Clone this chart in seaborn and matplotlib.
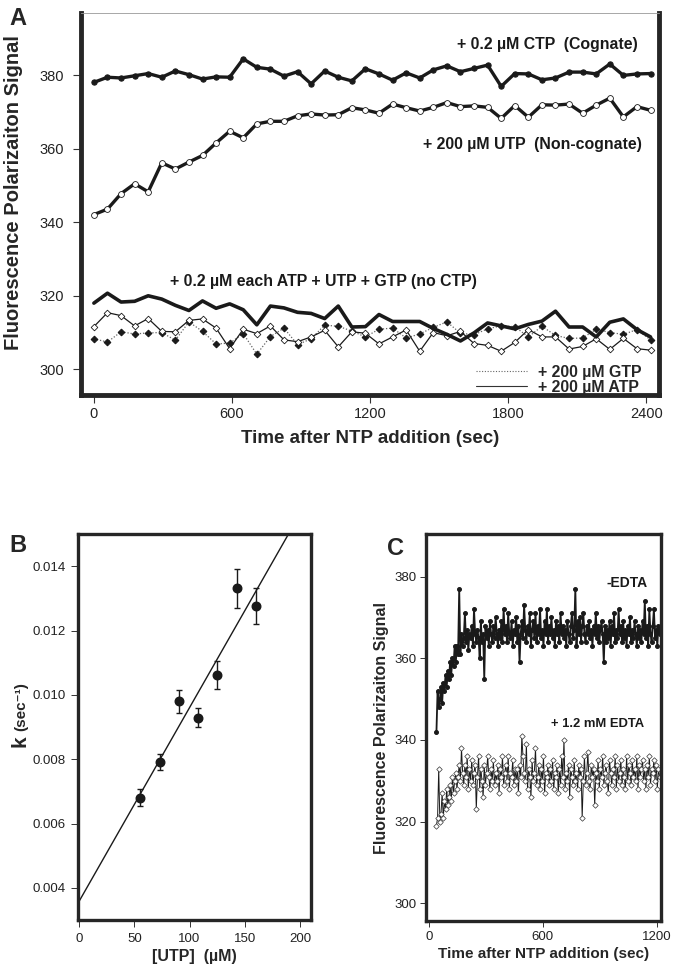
import matplotlib
matplotlib.use('Agg')
import matplotlib.pyplot as plt
import seaborn as sns
from matplotlib.lines import Line2D

# ---------------- data ----------------
# Panel A: time after NTP addition (sec)
a_time = [0, 59, 118, 177, 236, 295, 354, 413, 472, 531, 590, 649, 708, 767,
          826, 885, 944, 1003, 1062, 1121, 1180, 1239, 1298, 1357, 1416, 1475,
          1534, 1593, 1652, 1711, 1770, 1829, 1888, 1947, 2006, 2065, 2124,
          2183, 2242, 2301, 2360, 2419]

ctp_cognate = [378.1, 379.5, 379.3, 379.9, 380.5, 379.5, 381.2, 380.2, 379.0, 379.6,
               379.5, 384.5, 382.2, 381.7, 379.8, 381.0, 377.7, 381.2, 379.5, 378.5,
               381.8, 380.4, 378.7, 380.7, 379.3, 381.5, 382.6, 381.0, 381.9, 382.8,
               377.0, 380.5, 380.4, 378.8, 379.3, 380.9, 380.9, 380.4, 383.1, 380.0,
               380.4, 380.5]

utp_noncognate = [342.1, 343.6, 347.8, 350.5, 348.3, 356.2, 354.5, 356.4, 358.2, 361.6,
                  364.8, 363.0, 366.8, 367.5, 367.5, 369.0, 369.5, 369.2, 369.3, 371.2,
                  370.6, 369.7, 372.2, 371.2, 370.3, 371.3, 372.6, 371.5, 371.7, 371.3,
                  368.3, 371.8, 368.6, 372.0, 371.9, 372.2, 369.7, 371.9, 373.8, 368.7,
                  371.5, 370.5]

mix_no_ctp = [318.0, 320.7, 318.3, 318.5, 320.0, 319.1, 317.4, 316.0, 318.6, 316.6,
              317.8, 316.2, 312.1, 317.2, 316.7, 315.5, 315.2, 313.8, 317.2, 311.5,
              311.6, 314.9, 313.0, 313.0, 313.0, 311.1, 309.5, 307.7, 309.9, 312.6,
              311.8, 311.0, 312.2, 313.1, 315.8, 311.5, 311.5, 308.8, 312.8, 313.7,
              310.8, 308.8]

atp_200 = [311.6, 315.4, 314.6, 311.8, 313.8, 310.3, 310.2, 313.3, 313.7, 311.2,
           305.6, 310.9, 309.7, 311.8, 308.0, 307.5, 308.8, 310.6, 306.1, 310.2,
           309.8, 306.9, 308.8, 310.7, 304.9, 310.0, 309.1, 310.3, 307.0, 306.5,
           304.9, 307.3, 310.8, 308.8, 308.8, 305.5, 306.2, 308.3, 305.4, 308.4,
           305.6, 305.2]

gtp_200 = [308.3, 307.4, 310.2, 309.6, 309.9, 310.0, 307.9, 312.9, 310.3, 306.9,
           307.1, 309.7, 304.1, 308.9, 311.2, 306.7, 308.3, 312.0, 311.7, 310.4,
           308.8, 310.9, 311.2, 308.5, 309.6, 311.4, 312.9, 309.8, 309.4, 311.0,
           311.8, 311.6, 308.8, 311.7, 309.2, 308.4, 308.5, 310.9, 310.0, 309.5,
           310.8, 308.0]

# Panel B: rate constant vs [UTP]
utp_conc = [55, 73, 90, 108, 125, 143, 160]
k_rate = [0.00680, 0.00791, 0.00980, 0.00929, 0.01062, 0.01331, 0.01276]
k_err = [0.00027, 0.00025, 0.00035, 0.00030, 0.00043, 0.00060, 0.00055]

# Panel C: sampled every 6 s from 40 s
c_time = list(range(40, 1217, 6))

minus_edta = [342, 352, 348, 350, 353, 349, 354, 352, 356, 353, 357, 355, 359, 356, 360, 358, 363, 359, 363, 361, 377,
              361, 366, 363, 365, 371, 364, 367, 362, 366, 365, 368, 363, 372, 366, 364, 367, 365, 360, 369, 364,
              366, 355, 368, 365, 367, 363, 369, 366, 364, 368, 365, 370, 366, 363, 367, 365, 369, 364, 372, 366,
              368, 364, 371, 366, 365, 369, 363, 367, 366, 370, 364, 368, 359, 366, 369, 365, 373, 367, 364, 368,
              366, 371, 363, 367, 369, 365, 371, 364, 368, 366, 372, 365, 367, 363, 369, 366, 372, 364, 368, 366,
              370, 365, 367, 363, 369, 366, 368, 364, 371, 366, 368, 365, 367, 363, 369, 366, 364, 368, 371, 365,
              367, 377, 363, 369, 366, 370, 364, 368, 371, 366, 364, 368, 366, 369, 365, 367, 363, 368, 366, 371,
              365, 368, 364, 367, 369, 366, 359, 368, 364, 367, 365, 369, 363, 368, 366, 371, 364, 367, 365, 372,
              366, 368, 364, 369, 365, 367, 363, 368, 366, 370, 364, 367, 365, 369, 366, 363, 368, 365, 367, 364,
              369, 366, 374, 365, 368, 363, 372, 366, 364, 368, 372, 365, 367, 363, 368, 366]

plus_edta = [319, 321, 333, 320, 322, 327, 321, 325, 323, 328, 324, 326, 329, 325, 331, 327, 330, 332, 328, 331, 334,
             330, 338, 332, 329, 334, 331, 336, 328, 333, 330, 335, 329, 332, 334, 323, 331, 336, 328, 333, 330,
             326, 334, 329, 332, 336, 331, 328, 333, 330, 335, 329, 332, 330, 334, 327, 333, 331, 336, 329, 332,
             334, 330, 336, 328, 332, 331, 335, 329, 333, 330, 333, 327, 334, 331, 341, 336, 332, 330, 339, 328,
             333, 331, 326, 335, 330, 332, 338, 329, 331, 334, 328, 333, 330, 336, 327, 332, 331, 334, 329, 333,
             330, 335, 328, 332, 331, 334, 327, 333, 329, 336, 331, 340, 328, 332, 330, 334, 326, 333, 331, 329,
             335, 330, 332, 328, 334, 331, 333, 321, 330, 336, 329, 332, 337, 330, 328, 334, 331, 333, 324, 332,
             330, 335, 328, 333, 331, 336, 329, 332, 334, 330, 327, 335, 332, 329, 333, 331, 336, 328, 334, 330,
             332, 335, 329, 333, 331, 328, 336, 330, 334, 332, 329, 335, 331, 333, 330, 336, 328, 334, 331, 333,
             335, 330, 333, 328, 334, 331, 336, 329, 333, 332, 335, 330, 334, 328, 333, 331]

# ---------------- style ----------------
sns.set_style('ticks')
plt.rcParams['font.family'] = ['Liberation Sans', 'DejaVu Sans']
plt.rcParams['axes.linewidth'] = 2.5
plt.rcParams['xtick.color'] = '#333333'
plt.rcParams['ytick.color'] = '#333333'
plt.rcParams['xtick.labelcolor'] = '#222222'
plt.rcParams['ytick.labelcolor'] = '#222222'

ink = '#1a1a1a'

fig = plt.figure(figsize=(6.79, 9.74), dpi=100)

# ---------------- panel A ----------------
axA = fig.add_axes([0.1193, 0.5945, 0.8513, 0.3922])
sns.lineplot(x=a_time, y=ctp_cognate, ax=axA, color=ink, linewidth=2.4,
             marker='o', markersize=3.8, markerfacecolor=ink, markeredgecolor=ink)
sns.lineplot(x=a_time, y=utp_noncognate, ax=axA, color=ink, linewidth=2.4,
             marker='o', markersize=4.2, markerfacecolor='white', markeredgecolor=ink,
             markeredgewidth=0.6)
sns.lineplot(x=a_time, y=gtp_200, ax=axA, color='#666666', linewidth=0.9,
             linestyle=(0, (1, 1.5)), marker='D', markersize=3.4,
             markerfacecolor=ink, markeredgecolor=ink)
sns.lineplot(x=a_time, y=atp_200, ax=axA, color=ink, linewidth=0.9,
             marker='D', markersize=3.4, markerfacecolor='white', markeredgecolor=ink,
             markeredgewidth=0.6)
sns.lineplot(x=a_time, y=mix_no_ctp, ax=axA, color=ink, linewidth=2.6)

axA.set_xlim(-56, 2456)
axA.set_ylim(293, 397)
axA.set_xticks([0, 600, 1200, 1800, 2400])
axA.set_yticks([300, 320, 340, 360, 380])
axA.spines['left'].set_linewidth(3.5)
axA.spines['right'].set_linewidth(3.5)
axA.spines['top'].set_linewidth(0.6)
axA.spines['top'].set_color('#999999')
axA.spines['bottom'].set_linewidth(3.5)
axA.tick_params(direction='out', length=6, width=0.8, labelsize=10.5)
axA.tick_params(axis='x', pad=3)
axA.tick_params(axis='y', pad=6)
axA.set_xlabel('Time after NTP addition (sec)', fontsize=13.5, fontweight='bold', labelpad=6)
axA.set_ylabel('Fluorescence Polarizaiton Signal', fontsize=14.5, fontweight='bold')
axA.yaxis.set_label_coords(-0.1, 0.53)

bold = dict(fontsize=11.4, fontweight='bold', color=ink)
axA.text(2364, 388.4, '+ 0.2 \u00b5M CTP  (Cognate)', ha='right', va='center', **bold)
axA.text(2382, 361.2, '+ 200 \u00b5M UTP  (Non-cognate)', ha='right', va='center', **bold)
axA.text(330, 323.9, '+ 0.2 \u00b5M each ATP + UTP + GTP (no CTP)', ha='left', va='center', **bold)

handles = [Line2D([], [], color='#666666', linewidth=0.8, linestyle=(0, (1, 1.5))),
           Line2D([], [], color='#333333', linewidth=0.8)]
axA.legend(handles, ['+ 200 \u00b5M GTP', '+ 200 \u00b5M ATP'], loc='lower right',
           bbox_to_anchor=(0.969, 0.0), frameon=False, handlelength=3.2,
           handletextpad=0.7, labelspacing=0.0, borderaxespad=0, borderpad=0,
           prop={'weight': 'bold', 'size': 11.4})

fig.text(0.027, 0.981, 'A', fontsize=17, fontweight='bold', ha='center', va='center')

# ---------------- panel B ----------------
axB = fig.add_axes([0.1149, 0.0554, 0.3432, 0.3963])
axB.set_xlim(-1, 210)
axB.set_ylim(0.003, 0.015)
axB.errorbar(utp_conc, k_rate, yerr=k_err, fmt='none', ecolor=ink, elinewidth=1.0,
             capsize=2.5, capthick=1.0)
sns.regplot(x=utp_conc, y=k_rate, ax=axB, ci=None, truncate=False,
            scatter_kws={'s': 38, 'color': ink, 'alpha': 1, 'zorder': 3},
            line_kws={'color': ink, 'linewidth': 1.0})
axB.set_xlim(-1, 210)
axB.set_ylim(0.003, 0.015)
axB.set_xticks([0, 50, 100, 150, 200])
axB.set_yticks([0.004, 0.006, 0.008, 0.010, 0.012, 0.014])
axB.set_yticklabels(['0.004', '0.006', '0.008', '0.010', '0.012', '0.014'])
for s in axB.spines.values():
    s.set_linewidth(2.4)
axB.tick_params(direction='out', length=5, width=0.7, labelsize=9.5, pad=4)
axB.set_xlabel('[UTP]  (\u00b5M)', fontsize=11.5, fontweight='bold', labelpad=3)
axB.set_ylabel('')
fig.text(0.030, 0.239, 'k', fontsize=15, fontweight='bold', rotation=90, ha='center', va='center')
fig.text(0.032, 0.275, '(sec\u207b\u00b9)', fontsize=11, fontweight='bold', rotation=90,
         ha='center', va='center')
fig.text(0.027, 0.440, 'B', fontsize=17, fontweight='bold', ha='center', va='center')

# ---------------- panel C ----------------
axC = fig.add_axes([0.6274, 0.0544, 0.3457, 0.3973])
sns.lineplot(x=c_time, y=plus_edta, ax=axC, color=ink, linewidth=0.7,
             marker='D', markersize=2.8, markerfacecolor='white', markeredgecolor='#333333',
             markeredgewidth=0.5)
sns.lineplot(x=c_time, y=minus_edta, ax=axC, color=ink, linewidth=1.3,
             marker='o', markersize=2.8, markerfacecolor=ink, markeredgecolor=ink)
axC.set_xlim(-15, 1222)
axC.set_ylim(295.7, 390.4)
axC.set_xticks([0, 600, 1200])
axC.set_yticks([300, 320, 340, 360, 380])
for s in axC.spines.values():
    s.set_linewidth(2.4)
axC.tick_params(direction='out', length=4, width=0.7, labelsize=9.5, pad=3)
axC.set_xlabel('Time after NTP addition (sec)', fontsize=11, fontweight='bold', labelpad=3)
axC.set_ylabel('Fluorescence Polarizaiton Signal', fontsize=11.5, fontweight='bold', labelpad=4)
axC.text(1042, 378.5, '-EDTA', ha='center', va='center', fontsize=10, fontweight='bold', color=ink)
axC.text(890, 344, '+ 1.2 mM EDTA', ha='center', va='center', fontsize=9.4, fontweight='bold', color=ink)
fig.text(0.583, 0.437, 'C', fontsize=17, fontweight='bold', ha='center', va='center')

fig.savefig('out.png', dpi=100)
